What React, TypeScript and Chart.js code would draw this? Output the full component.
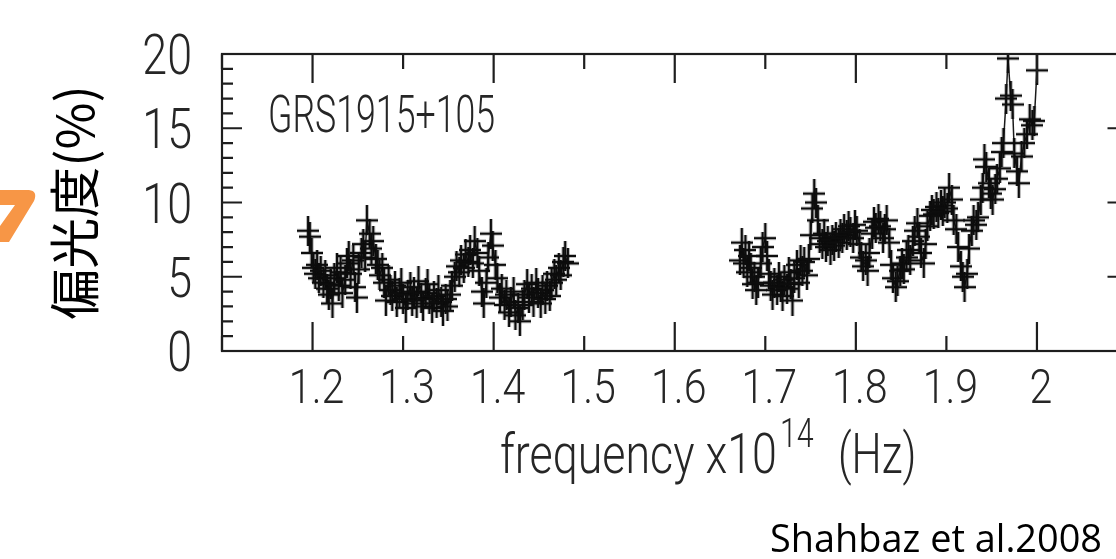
import { useEffect, useRef } from 'react';
import { Chart, registerables } from 'chart.js';

Chart.register(...registerables);

// ---- data (frequency in 1e14 Hz, polarization degree in %) ----
const freqLow = [
  1.195, 1.197, 1.199, 1.201, 1.203, 1.205, 1.207, 1.209, 1.212, 1.214,
  1.216, 1.218, 1.220, 1.222, 1.224, 1.227, 1.229, 1.231, 1.233, 1.236,
  1.238, 1.240, 1.242, 1.245, 1.247, 1.249, 1.251, 1.254, 1.256, 1.258,
  1.260, 1.263, 1.265, 1.267, 1.270, 1.272, 1.274, 1.277, 1.279, 1.281,
  1.284, 1.286, 1.288, 1.291, 1.293, 1.296, 1.298, 1.300, 1.303, 1.305,
  1.308, 1.310, 1.312, 1.315, 1.317, 1.320, 1.322, 1.325, 1.327, 1.329,
  1.332, 1.334, 1.337, 1.339, 1.342, 1.344, 1.347, 1.349, 1.352, 1.354,
  1.357, 1.359, 1.362, 1.364, 1.367, 1.369, 1.372, 1.374, 1.377, 1.379,
  1.382, 1.384, 1.387, 1.389, 1.392, 1.394, 1.397, 1.399, 1.402, 1.404,
  1.407, 1.409, 1.412, 1.414, 1.417, 1.419, 1.422, 1.424, 1.427, 1.429,
  1.432, 1.434, 1.437, 1.439, 1.442, 1.444, 1.447, 1.449, 1.452, 1.454,
  1.457, 1.459, 1.462, 1.464, 1.467, 1.469, 1.472, 1.474, 1.477, 1.479,
  1.482,
];
const polLow = [
  8.1, 7.7, 6.6, 5.6, 5.2, 5.8, 4.9, 5.4, 4.6, 5.1,
  4.2, 3.8, 4.5, 3.2, 4.9, 5.6, 4.4, 5.3, 3.9, 4.8,
  5.9, 6.4, 5.2, 6.1, 4.3, 3.6, 5.5, 6.6, 7.2, 6.3,
  8.8, 7.9, 6.9, 7.4, 6.2, 5.8, 5.1, 5.6, 4.6, 3.4,
  4.8, 4.1, 3.7, 4.4, 3.3, 3.9, 4.6, 3.5, 2.9, 3.8,
  4.3, 3.4, 4.0, 3.2, 4.7, 3.6, 3.0, 3.9, 4.5, 3.5,
  2.9, 3.7, 3.2, 4.1, 3.3, 2.7, 3.5, 3.0, 3.8, 4.4,
  5.0, 5.7, 5.3, 6.1, 5.6, 6.5, 6.0, 6.8, 5.9, 7.4,
  6.6, 5.4, 4.0, 3.2, 4.6, 6.3, 7.9, 7.1, 5.8, 4.9,
  3.6, 4.2, 3.1, 3.8, 2.6, 3.3, 4.0, 2.4, 2.9, 2.0,
  3.1, 3.8, 4.5, 3.6, 4.2, 3.3, 4.6, 3.9, 3.2, 4.1,
  3.5, 4.4, 3.7, 4.6, 5.2, 4.8, 5.6, 5.1, 6.0, 6.4,
  5.9,
];
const freqHigh = [
  1.672, 1.674, 1.676, 1.678, 1.680, 1.682, 1.684, 1.686, 1.688, 1.690,
  1.692, 1.695, 1.697, 1.700, 1.702, 1.704, 1.706, 1.708, 1.710, 1.713,
  1.715, 1.717, 1.719, 1.721, 1.724, 1.726, 1.728, 1.730, 1.732, 1.735,
  1.737, 1.739, 1.741, 1.743, 1.746, 1.748, 1.750, 1.752, 1.754, 1.756,
  1.758, 1.760, 1.763, 1.765, 1.767, 1.769, 1.772, 1.774, 1.776, 1.778,
  1.781, 1.783, 1.785, 1.787, 1.790, 1.792, 1.794, 1.797, 1.799, 1.801,
  1.804, 1.806, 1.808, 1.811, 1.813, 1.815, 1.818, 1.820, 1.822, 1.825,
  1.827, 1.830, 1.832, 1.834, 1.837, 1.839, 1.841, 1.844, 1.846, 1.849,
  1.851, 1.853, 1.856, 1.858, 1.860, 1.863, 1.865, 1.868, 1.870, 1.872,
  1.875, 1.877, 1.879, 1.882, 1.884, 1.886, 1.889, 1.891, 1.894, 1.896,
  1.898, 1.901, 1.903, 1.906, 1.908, 1.911, 1.913, 1.916, 1.918, 1.920,
  1.923, 1.925, 1.928, 1.930, 1.933, 1.935, 1.938, 1.940, 1.942, 1.944,
  1.947, 1.949, 1.951, 1.954, 1.956, 1.959, 1.961, 1.963, 1.966, 1.968,
  1.971, 1.973, 1.975, 1.978, 1.980, 1.983, 1.986, 1.989, 1.992, 1.995,
  1.997, 2.000,
];
const polHigh = [
  6.1, 7.3, 5.9, 6.8, 5.3, 6.4, 5.6, 4.5, 5.0, 4.1,
  4.6, 5.9, 7.0, 7.6, 6.4, 5.2, 4.4, 3.8, 4.6, 4.1,
  5.0, 4.3, 3.7, 4.8, 4.2, 5.3, 4.5, 3.4, 4.9, 5.8,
  4.6, 6.1, 5.4, 6.0, 5.1, 6.2, 7.8, 9.6, 10.6, 10.0,
  8.8, 7.6, 7.2, 7.9, 7.0, 7.4, 6.8, 7.5, 7.1, 7.7,
  7.3, 7.9, 7.6, 8.2, 7.8, 8.4, 8.0, 7.6, 8.5, 8.1,
  7.2, 6.3, 5.7, 6.1, 5.4, 6.6, 7.9, 8.7, 8.3, 8.9,
  8.4, 7.6, 8.2, 8.8, 7.3, 5.8, 4.9, 4.3, 4.7, 5.4,
  5.9, 5.5, 6.3, 6.8, 6.1, 7.4, 8.1, 8.6, 7.7, 6.6,
  5.9, 7.2, 8.4, 9.1, 9.5, 9.2, 9.7, 9.3, 9.8, 9.4,
  10.0, 9.6, 11.0, 10.2, 8.8, 8.2, 7.0, 5.7, 5.0, 4.3,
  5.2, 6.9, 8.1, 8.8, 8.5, 9.0, 10.2, 11.0, 12.9, 12.4,
  11.3, 10.6, 10.2, 10.9, 11.6, 12.3, 13.4, 14.0, 17.0, 19.7,
  17.2, 16.6, 13.3, 12.1, 11.3, 13.1, 14.0, 14.6, 15.6, 15.2,
  15.5, 18.9,
];

// ---- axes ----
const xLabelValues = [1.2, 1.3, 1.4, 1.5, 1.6, 1.7, 1.8, 1.9, 2.0];
const xMinorTicks = [1.1, 1.2, 1.3, 1.4, 1.5, 1.6, 1.7, 1.8, 1.9, 2.0, 2.1];
const xMajorTicks = [1.2, 1.4, 1.6, 1.8, 2.0];
const yMinorTicks = [0, 1, 2, 3, 4, 5, 6, 7, 8, 9, 10, 11, 12, 13, 14, 15, 16, 17, 18, 19, 20];
const yMajorTicks = [0, 5, 10, 15, 20];

const sourceLabel = 'GRS1915+105';
const yTitle = '偏光度(%)';
const xTitleMain = 'frequency x10';
const xTitleExp = '14';
const xTitleUnit = '(Hz)';
const credit = 'Shahbaz et al.2008';

const INK = '#1e1e1e';
const TEXT = '#262626';
const PLOT_FONT = 'Roboto, "Liberation Sans", sans-serif';

function makeCross(): HTMLCanvasElement {
  const c = document.createElement('canvas');
  c.width = 22;
  c.height = 30;
  const g = c.getContext('2d')!;
  g.strokeStyle = '#0d0d0d';
  g.lineWidth = 2.6;
  g.beginPath();
  g.moveTo(0, 15);
  g.lineTo(22, 15);
  g.moveTo(11, 0);
  g.lineTo(11, 30);
  g.stroke();
  return c;
}

function condensed(ctx: CanvasRenderingContext2D, text: string, x: number, y: number, font: string, sx: number, align: CanvasTextAlign, baseline: CanvasTextBaseline) {
  ctx.save();
  ctx.font = font;
  ctx.textAlign = align;
  ctx.textBaseline = baseline;
  ctx.translate(x, y);
  ctx.scale(sx, 1);
  ctx.fillText(text, 0, 0);
  ctx.restore();
}

const decorPlugin = {
  id: 'decor',
  afterDraw(chart: any) {
    const { ctx, chartArea: ca, scales } = chart;
    const x = scales.x;
    const y = scales.y;
    ctx.save();
    ctx.strokeStyle = INK;
    ctx.lineWidth = 2.2;
    ctx.strokeRect(ca.left, ca.top, ca.right - ca.left, ca.bottom - ca.top);
    ctx.beginPath();
    xMinorTicks.forEach((v) => {
      const px = x.getPixelForValue(v);
      const len = xMajorTicks.includes(v) ? 29 : 15;
      ctx.moveTo(px, ca.bottom);
      ctx.lineTo(px, ca.bottom - len);
      ctx.moveTo(px, ca.top);
      ctx.lineTo(px, ca.top + len);
    });
    yMinorTicks.forEach((v) => {
      const py = y.getPixelForValue(v);
      const len = yMajorTicks.includes(v) ? 20 : 11;
      ctx.moveTo(ca.left, py);
      ctx.lineTo(ca.left + len, py);
      ctx.moveTo(ca.right, py);
      ctx.lineTo(ca.right - len, py);
    });
    ctx.stroke();

    ctx.fillStyle = TEXT;
    // tick labels through the scales
    yMajorTicks.forEach((v) => {
      condensed(ctx, String(v), ca.left - 30, y.getPixelForValue(v) + 20, `300 56px ${PLOT_FONT}`, 0.8, 'right', 'alphabetic');
    });
    xLabelValues.forEach((v) => {
      condensed(ctx, String(v), x.getPixelForValue(v) + 4, ca.bottom + 52, `300 49px ${PLOT_FONT}`, 0.84, 'center', 'alphabetic');
    });

    // inside label
    condensed(ctx, sourceLabel, 268, 132, `300 51px ${PLOT_FONT}`, 0.7, 'left', 'alphabetic');

    // x axis title with superscript
    condensed(ctx, xTitleMain, 500, 473, `300 56px ${PLOT_FONT}`, 0.8, 'left', 'alphabetic');
    condensed(ctx, xTitleExp, 780, 447, `300 40px ${PLOT_FONT}`, 0.76, 'left', 'alphabetic');
    condensed(ctx, xTitleUnit, 838, 473, `300 56px ${PLOT_FONT}`, 0.76, 'left', 'alphabetic');

    // credit
    ctx.fillStyle = '#000';
    ctx.font = '38px "Open Sans"';
    ctx.textAlign = 'left';
    ctx.textBaseline = 'alphabetic';
    ctx.fillText(credit, 770, 552, 332);

    // orange arrow fragment at the left edge
    ctx.fillStyle = '#F79646';
    ctx.beginPath();
    ctx.moveTo(0, 190);
    ctx.lineTo(29, 190);
    ctx.quadraticCurveTo(38, 191, 34, 201);
    ctx.lineTo(9, 242);
    ctx.lineTo(0, 242);
    ctx.lineTo(0, 226);
    ctx.lineTo(15, 205);
    ctx.lineTo(0, 205);
    ctx.closePath();
    ctx.fill();
    ctx.restore();
  },
};

export default function App() {
  const ref = useRef<HTMLCanvasElement | null>(null);

  useEffect(() => {
    if (!ref.current) return;
    const cross = makeCross();
    const common = {
      showLine: true,
      borderColor: '#1a1a1a',
      borderWidth: 1.5,
      pointStyle: cross as any,
      pointRadius: 11,
      pointHoverRadius: 11,
      tension: 0,
    };
    const chart = new Chart(ref.current, {
      type: 'scatter',
      data: {
        datasets: [
          { ...common, label: 'low', data: freqLow.map((f, i) => ({ x: f, y: polLow[i] })) },
          { ...common, label: 'high', data: freqHigh.map((f, i) => ({ x: f, y: polHigh[i] })) },
        ],
      },
      options: {
        animation: false,
        responsive: false,
        devicePixelRatio: 1,
        layout: { padding: { top: 54, right: 12, left: 0, bottom: 0 } },
        plugins: { legend: { display: false }, tooltip: { enabled: false } },
        scales: {
          x: {
            type: 'linear',
            min: 1.1,
            max: 2.1,
            grid: { display: false, drawTicks: false },
            border: { display: false },
            afterFit: (s: any) => { s.height = 208; },
            ticks: { display: false, stepSize: 0.1 },
          },
          y: {
            min: 0,
            max: 20,
            grid: { display: false, drawTicks: false },
            border: { display: false },
            afterFit: (s: any) => { s.width = 222; },
            ticks: { display: false, stepSize: 5 },
            title: {
              display: true,
              text: yTitle,
              color: '#000',
              padding: { top: 44, bottom: 0 },
              font: { family: '"Noto Sans CJK JP"', size: 51 },
            },
          },
        },
      },
      plugins: [decorPlugin],
    });
    return () => chart.destroy();
  }, []);

  return (
    <div style={{ position: 'absolute', left: 0, top: 0, width: 1116, height: 559, overflow: 'hidden', background: '#fff' }}>
      <canvas ref={ref} width={1140} height={559} style={{ display: 'block' }} />
    </div>
  );
}
